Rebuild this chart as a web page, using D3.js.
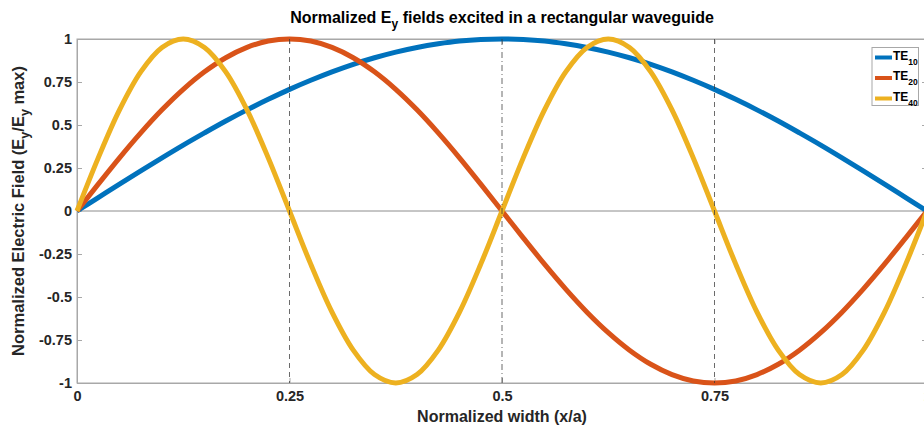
<!DOCTYPE html>
<html>
<head>
<meta charset="utf-8">
<script src="https://cdn.jsdelivr.net/npm/d3@7"></script>
<style>
  html, body { margin: 0; padding: 0; background: #fff; overflow: hidden; }
  svg { display: block; font-family: "Liberation Sans", Arial, Helvetica, sans-serif; }
</style>
</head>
<body>
<svg id="chart" width="924" height="429"></svg>
<script>
// Sample positions across the guide width (x/a)
const xs = [0,0.025,0.05,0.075,0.1,0.125,0.15,0.175,0.2,0.225,0.25,0.275,0.3,0.325,0.35,0.375,0.4,0.425,0.45,0.475,0.5,
  0.525,0.55,0.575,0.6,0.625,0.65,0.675,0.7,0.725,0.75,0.775,0.8,0.825,0.85,0.875,0.9,0.925,0.95,0.975,1];

// Normalized Ey for each mode
const te10 = [0,0.078,0.156,0.233,0.309,0.383,0.454,0.523,0.588,0.649,0.707,0.760,0.809,0.853,0.891,0.924,0.951,0.972,0.988,0.997,1,
  0.997,0.988,0.972,0.951,0.924,0.891,0.853,0.809,0.760,0.707,0.649,0.588,0.523,0.454,0.383,0.309,0.233,0.156,0.078,0];
const te20 = [0,0.156,0.309,0.454,0.588,0.707,0.809,0.891,0.951,0.988,1,0.988,0.951,0.891,0.809,0.707,0.588,0.454,0.309,0.156,0,
  -0.156,-0.309,-0.454,-0.588,-0.707,-0.809,-0.891,-0.951,-0.988,-1,-0.988,-0.951,-0.891,-0.809,-0.707,-0.588,-0.454,-0.309,-0.156,0];
const te40 = [0,0.309,0.588,0.809,0.951,1,0.951,0.809,0.588,0.309,0,-0.309,-0.588,-0.809,-0.951,-1,-0.951,-0.809,-0.588,-0.309,0,
  0.309,0.588,0.809,0.951,1,0.951,0.809,0.588,0.309,0,-0.309,-0.588,-0.809,-0.951,-1,-0.951,-0.809,-0.588,-0.309,0];

const seriesNames = ["10", "20", "40"];
const seriesColors = ["#0072BD", "#D95319", "#EDB120"];

const xTicks = [0, 0.25, 0.5, 0.75, 1];
const xTickLabels = ["0", "0.25", "0.5", "0.75", "1"];
const yTicks = [-1, -0.75, -0.5, -0.25, 0, 0.25, 0.5, 0.75, 1];
const yTickLabels = ["-1", "-0.75", "-0.5", "-0.25", "0", "0.25", "0.5", "0.75", "1"];

// Guide lines: quarter widths dashed, centre dash-dot
const vLines = [0.25, 0.5, 0.75];
const vLineDash = ["5,4", "6,3,1,3", "5,4"];

const svg = d3.select("#chart");
const margin = { left: 77, right: 927, top: 39, bottom: 383 };

const x = d3.scaleLinear().domain([0, 1]).range([margin.left, margin.right]);
const y = d3.scaleLinear().domain([-1, 1]).range([margin.bottom, margin.top]);

const axisColor = "#a8a8a8";

// Box
svg.append("rect")
  .attr("x", x(0)).attr("y", y(1))
  .attr("width", x(1) - x(0)).attr("height", y(-1) - y(1))
  .attr("fill", "none").attr("stroke", axisColor).attr("stroke-width", 1);

// Zero line
svg.append("line")
  .attr("x1", x(0)).attr("x2", x(1))
  .attr("y1", y(0)).attr("y2", y(0))
  .attr("stroke", "#8c8c8c").attr("stroke-width", 1);

// Axes (ticks point inward)
const xAxis = d3.axisBottom(x).tickValues(xTicks)
  .tickFormat((d, i) => xTickLabels[i]).tickSizeInner(-5).tickSizeOuter(0).tickPadding(8);
const gx = svg.append("g").attr("transform", `translate(0,${y(-1)})`).call(xAxis);

const yAxis = d3.axisLeft(y).tickValues(yTicks)
  .tickFormat((d, i) => yTickLabels[i]).tickSizeInner(-5).tickSizeOuter(0).tickPadding(5);
const gy = svg.append("g").attr("transform", `translate(${x(0)},0)`).call(yAxis);

const yAxisR = d3.axisRight(y).tickValues(yTicks).tickFormat("").tickSizeInner(-5).tickSizeOuter(0);
const gyr = svg.append("g").attr("transform", `translate(${x(1)},0)`).call(yAxisR);

const xAxisT = d3.axisTop(x).tickValues(xTicks).tickFormat("").tickSizeInner(-5).tickSizeOuter(0);
const gxt = svg.append("g").attr("transform", `translate(0,${y(1)})`).call(xAxisT);

[gx, gy, gyr, gxt].forEach(g => {
  g.select(".domain").attr("stroke", axisColor);
  g.selectAll(".tick line").attr("stroke", axisColor);
  g.selectAll(".tick text")
    .attr("fill", "#262626")
    .style("font-size", "14.5px")
    .style("font-weight", "bold")
    .style("font-family", "'Liberation Sans', Arial, sans-serif");
});

// Curves
const data = [te10, te20, te40];
const line = d3.line()
  .x((d, i) => x(xs[i]))
  .y(d => y(d))
  .curve(d3.curveCatmullRom.alpha(0.5));

svg.append("g").selectAll("path")
  .data(data)
  .join("path")
  .attr("d", d => line(d))
  .attr("fill", "none")
  .attr("stroke", (d, i) => seriesColors[i])
  .attr("stroke-width", 5)
  .attr("stroke-linejoin", "round");

// Vertical guide lines
svg.append("g").selectAll("line")
  .data(vLines)
  .join("line")
  .attr("x1", d => x(d)).attr("x2", d => x(d))
  .attr("y1", y(1)).attr("y2", y(-1))
  .attr("stroke", "#3a3a3a")
  .attr("stroke-opacity", 0.75)
  .attr("stroke-width", 1)
  .attr("stroke-dasharray", (d, i) => vLineDash[i]);

// Title
const title = svg.append("text")
  .attr("x", (x(0) + x(1)) / 2).attr("y", 23)
  .attr("text-anchor", "middle")
  .style("font-size", "16px").style("font-weight", "bold").attr("fill", "#000");
title.append("tspan").text("Normalized E");
title.append("tspan").text("y").attr("dy", 5).style("font-size", "12px");
title.append("tspan").text(" fields excited in a rectangular waveguide").attr("dy", -5);

// X label
svg.append("text")
  .attr("x", (x(0) + x(1)) / 2).attr("y", 422)
  .attr("text-anchor", "middle")
  .style("font-size", "16px").style("font-weight", "bold").attr("fill", "#262626")
  .text("Normalized width (x/a)");

// Y label
const ylab = svg.append("text")
  .attr("transform", `translate(24,${y(0)}) rotate(-90)`)
  .attr("text-anchor", "middle")
  .style("font-size", "16.5px").style("font-weight", "bold").attr("fill", "#262626");
ylab.append("tspan").text("Normalized Electric Field (E");
ylab.append("tspan").text("y").attr("dy", 5).style("font-size", "12.5px");
ylab.append("tspan").text("/E").attr("dy", -5);
ylab.append("tspan").text("y").attr("dy", 5).style("font-size", "12.5px");
ylab.append("tspan").text(" max)").attr("dy", -5);

// Legend
const legend = svg.append("g");
legend.append("rect")
  .attr("x", 872).attr("y", 47.5).attr("width", 46.5).attr("height", 58)
  .attr("fill", "#fff").attr("stroke", "#a8a8a8").attr("stroke-width", 1);

const entries = legend.selectAll("g.entry")
  .data(seriesNames)
  .join("g")
  .attr("class", "entry")
  .attr("transform", (d, i) => `translate(875,${57.5 + i * 20.5})`);

entries.append("line")
  .attr("x1", 0).attr("x2", 17).attr("y1", 0).attr("y2", 0)
  .attr("stroke", (d, i) => seriesColors[i]).attr("stroke-width", 4);

const et = entries.append("text")
  .attr("x", 18).attr("y", 2)
  .style("font-size", "12px").style("font-weight", "bold").attr("fill", "#000");
et.append("tspan").text("TE");
et.append("tspan").text(d => d).attr("dy", 5).style("font-size", "8.5px");
</script>
</body>
</html>
